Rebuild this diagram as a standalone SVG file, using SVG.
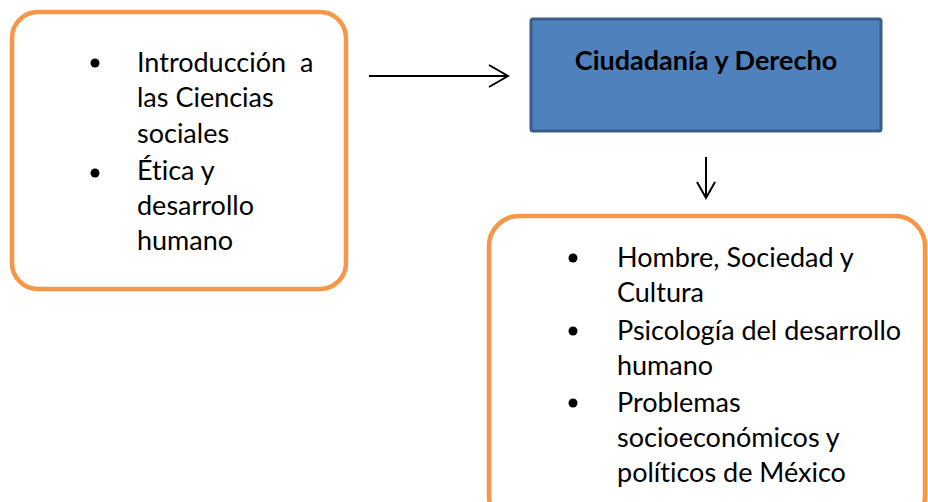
<svg xmlns="http://www.w3.org/2000/svg" width="928" height="502" viewBox="0 0 928 502">
<style>
  .orange { fill: #FFFFFF; stroke: #F79646; stroke-width: 4.5; }
  .blue { fill: #4F81BD; stroke: #385D8A; stroke-width: 3; }
  .txt { font-family: Lato, "Open Sans", sans-serif; font-size: 27px; fill: #000000; white-space: pre; font-variant-ligatures: none; }
  .title { font-family: Lato, "Open Sans", sans-serif; font-size: 27px; font-weight: bold; fill: #000000; }
  .bullet { fill: #000000; }
  .conn { stroke: #000000; stroke-width: 2; fill: none; }
</style>
<rect width="928" height="502" fill="#FFFFFF"/>
<g id="node-left">
  <rect class="orange" x="12" y="12" width="334" height="277" rx="26" ry="26"/>
  <circle class="bullet" cx="95" cy="63" r="4.5"/>
  <circle class="bullet" cx="95" cy="173" r="4.5"/>
  <text class="txt" x="137" y="72" xml:space="preserve">Introducción  a</text>
  <text class="txt" x="137" y="107">las Ciencias</text>
  <text class="txt" x="137" y="143">sociales</text>
  <text class="txt" x="137" y="180">Ética y</text>
  <text class="txt" x="137" y="215">desarrollo</text>
  <text class="txt" x="137" y="250">humano</text>
</g>
<g id="node-center">
  <rect class="blue" x="531" y="19" width="350" height="112" rx="2" ry="2"/>
  <text class="title" x="706" y="70" text-anchor="middle">Ciudadanía y Derecho</text>
</g>
<g id="node-bottom">
  <rect class="orange" x="489" y="216" width="436" height="310" rx="30" ry="30"/>
  <circle class="bullet" cx="573" cy="258" r="4.5"/>
  <circle class="bullet" cx="573" cy="331" r="4.5"/>
  <circle class="bullet" cx="573" cy="403" r="4.5"/>
  <text class="txt" x="617" y="267">Hombre, Sociedad y</text>
  <text class="txt" x="617" y="302">Cultura</text>
  <text class="txt" x="617" y="340">Psicología del desarrollo</text>
  <text class="txt" x="617" y="375">humano</text>
  <text class="txt" x="617" y="412">Problemas</text>
  <text class="txt" x="617" y="447">socioeconómicos y</text>
  <text class="txt" x="617" y="482">políticos de México</text>
</g>
<g id="connectors">
  <line class="conn" x1="369" y1="76" x2="508" y2="76"/>
  <polyline class="conn" points="489,65 508,76 489,87"/>
  <line class="conn" x1="706" y1="157" x2="706" y2="198"/>
  <polyline class="conn" points="697,182 706,198 715,182"/>
</g>
</svg>
